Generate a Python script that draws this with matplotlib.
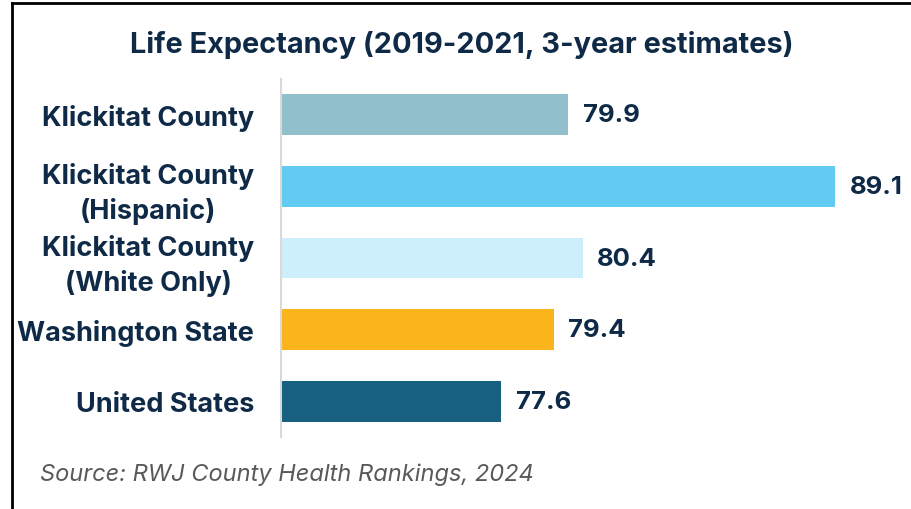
import matplotlib
matplotlib.use("Agg")
import matplotlib.pyplot as plt
from matplotlib.lines import Line2D

categories = ["Klickitat County", "Klickitat County\n(Hispanic)", "Klickitat County\n(White Only)",
              "Washington State", "United States"]
values = [79.9, 89.1, 80.4, 79.4, 77.6]
colors = ["#92BFCC", "#62CBF2", "#CDEEFB", "#FBB41C", "#17607F"]
title = "Life Expectancy (2019-2021, 3-year estimates)"
source = "Source: RWJ County Health Rankings, 2024"

navy = "#0F2A47"
plt.rcParams['font.family'] = ['Inter', 'DejaVu Sans']

W, H = 911, 510
fig = plt.figure(figsize=(W/100, H/100), dpi=100)
ax = fig.add_axes([281/W, 1-438/H, (890-281)/W, 358/H])

y = list(range(len(values)))
ax.barh(y, values, left=0, height=0.57, color=colors)
ax.set_xlim(70, 91)
ax.set_ylim(len(values)-0.5, -0.5)

for yi, v in zip(y, values):
    ax.text(v + 0.5, yi, f"{v:.1f}", va="center", ha="left", fontsize=18.5,
            fontweight="bold", color=navy)

ax.set_yticks(y)
ax.set_yticklabels(categories, fontsize=19.5, fontweight="bold", color=navy, linespacing=1.38)
ax.set_xticks([])
for s in ["top", "right", "bottom"]:
    ax.spines[s].set_visible(False)
ax.spines["left"].set_color("#D9D9D9")
ax.spines["left"].set_linewidth(1.5)
for lbl in ax.get_yticklabels():
    lbl.set_ha("right")
    lbl.set_multialignment("center")
ax.tick_params(axis="y", length=0, pad=28 - 12 * 0.72)

fig.text(462/W, 1-45/H, title, ha="center", va="center", fontsize=20.8,
         fontweight="bold", color=navy)
fig.text(40/W, 1-475/H, source, ha="left", va="center", fontsize=17,
         style="italic", color="#595959")

# frame border (top and left)
fig.add_artist(Line2D([11.5/W, 11.5/W], [0, 1-4/H], transform=fig.transFigure, color="black", lw=2))
fig.add_artist(Line2D([11.5/W, 1], [1-4/H, 1-4/H], transform=fig.transFigure, color="black", lw=2))

fig.savefig("out.png", dpi=100, facecolor="white")
